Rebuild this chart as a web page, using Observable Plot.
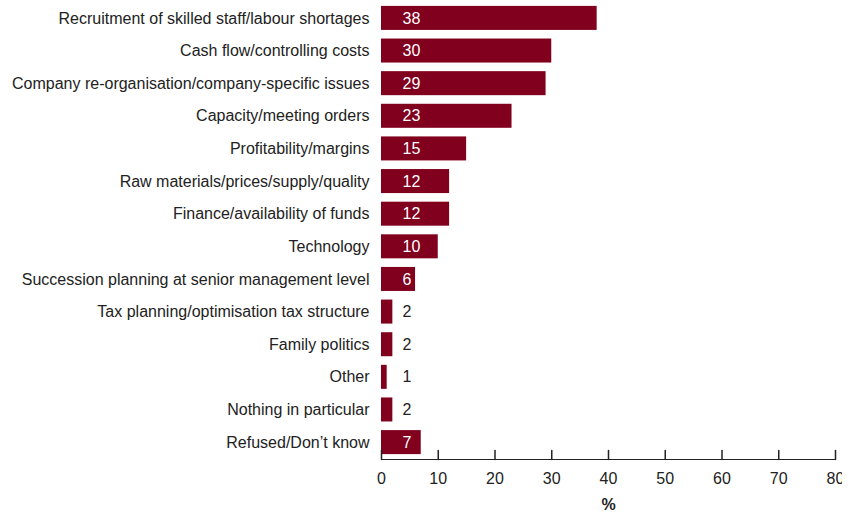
<!DOCTYPE html>
<html><head>
<meta charset="utf-8">
<script src="https://cdn.jsdelivr.net/npm/d3@7"></script>
<script src="https://cdn.jsdelivr.net/npm/@observablehq/plot@0.6"></script>
<style>body{margin:0;background:#fff} #c{width:842px;height:515px;overflow:hidden} #c svg{max-width:none}</style>
</head><body><div id="c"></div><script>
const categories = [
  "Recruitment of skilled staff/labour shortages",
  "Cash flow/controlling costs",
  "Company re-organisation/company-specific issues",
  "Capacity/meeting orders",
  "Profitability/margins",
  "Raw materials/prices/supply/quality",
  "Finance/availability of funds",
  "Technology",
  "Succession planning at senior management level",
  "Tax planning/optimisation tax structure",
  "Family politics",
  "Other",
  "Nothing in particular",
  "Refused/Don\u2019t know"
];
const values = [38, 30, 29, 23, 15, 12, 12, 10, 6, 2, 2, 1, 2, 7];
const xTicks = [0, 10, 20, 30, 40, 50, 60, 70, 80];
const data = categories.map((c, i) => ({category: c, value: values[i]}));

const tickShape = {draw(context, l) { context.moveTo(0, 0); context.lineTo(0, -l); }};

const plot = Plot.plot({
  width: 858, height: 515,
  marginLeft: 381, marginRight: 23, marginTop: 1, marginBottom: 56,
  style: {fontFamily: "'Liberation Sans', Arial, sans-serif", fontSize: "16px", color: "#222", background: "#fff", maxWidth: "none"},
  x: {domain: [0, 80], label: null},
  y: {domain: categories, paddingInner: 0.264, paddingOuter: 0.15, round: false, label: null},
  marks: [
    Plot.barX(data, {x: "value", y: "category", fill: "#80001e"}),
    Plot.text(data, {x: 0, y: "category", text: d => String(d.value), dx: 21, textAnchor: "start",
      fill: d => d.value >= 5 ? "#ffffff" : "#222", fontSize: 16}),
    Plot.frame({anchor: "bottom", stroke: "#222"}),
    Plot.vector(xTicks, {x: d => d, frameAnchor: "bottom", length: 9, rotate: 0, anchor: "start", shape: tickShape, stroke: "#222"}),
    Plot.axisX({ticks: xTicks, tickSize: 0, tickPadding: 13, fontSize: 16, label: null}),
    Plot.axisY({tickSize: 0, tickPadding: 12, fontSize: 16, label: null}),
    Plot.text(["%"], {frameAnchor: "bottom", dy: 50, fontWeight: "bold", fontSize: 16, fill: "#222"})
  ]
});
document.getElementById("c").append(plot);
</script></body></html>
